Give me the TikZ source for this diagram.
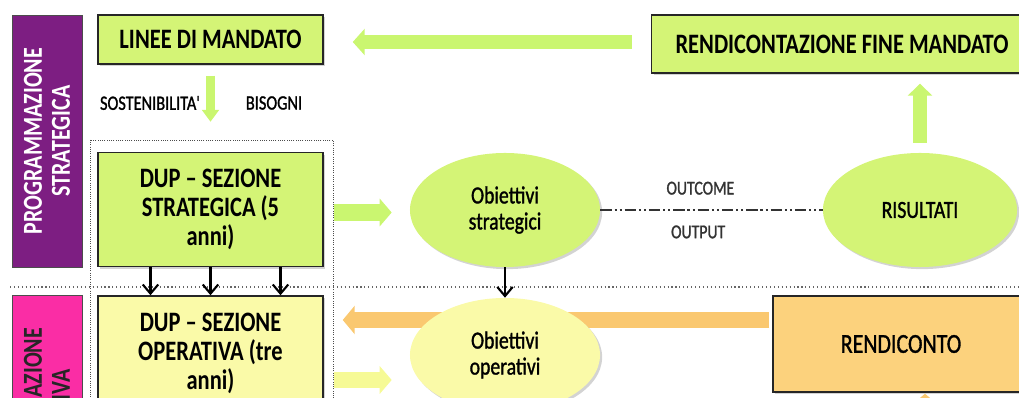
\documentclass[tikz,border=0pt]{standalone}
\usepackage{fontspec}
\setmainfont{Carlito}[FakeStretch=0.8]
\newfontfamily\medio{Carlito}[FakeStretch=0.8, FakeBold=1.2]
\usetikzlibrary{arrows.meta, positioning, shapes.geometric, shadows}
\definecolor{verde}{RGB}{212,244,118}
\definecolor{verdeart}{RGB}{202,246,112}
\definecolor{giallo}{RGB}{250,250,168}
\definecolor{gialloart}{RGB}{246,250,150}
\definecolor{arancio}{RGB}{252,210,125}
\definecolor{arancioart}{RGB}{250,200,112}
\definecolor{viola}{RGB}{125,30,130}
\definecolor{fucsia}{RGB}{250,45,165}
\newcommand\titolo{\fontsize{20}{20.6}\selectfont\bfseries}
\newcommand\barra{\fontsize{19.5}{20}\selectfont\bfseries}

\begin{document}
\begin{tikzpicture}[
  x=0.025cm, y=-0.025cm, every node/.style={align=center},
  ombra/.style={drop shadow={shadow xshift=1.5pt, shadow yshift=-1.5pt, opacity=.35}},
  box/.style={draw=black!85, line width=1pt, inner sep=4pt, ombra},
  ell/.style={ellipse, inner sep=0pt, minimum height=2.85cm, ombra},
  bar/.style={rotate=90, draw=black!70, line width=.6pt, minimum width=6.3cm, minimum height=1.75cm, font=\barra},
  blocco/.style 2 args={line width=#1, -{Triangle[length=0.3cm, width=#2]}},
  nero/.style={line width=1.5pt, -{Straight Barb[length=6.5pt, width=11pt]}}
]
\useasboundingbox (0,0) rectangle (1019,398);
\clip (0,0) rectangle (1019,398);

% barre laterali
\node[bar, fill=viola, text=white] (pstrat) at (47,141) {PROGRAMMAZIONE\\STRATEGICA};
\node[bar, fill=fucsia, text=black!85] (poper) at (47,421) {PROGRAMMAZIONE\\OPERATIVA};

% separatori
\coordinate (sepa) at (10,287);
\coordinate (sepb) at (1019,287);
\draw[dotted, line width=.8pt, black!60] (sepa) -- (sepb);
\draw[densely dotted, line width=.6pt, black!70] (90,140) rectangle (333,430);

% caselle
\node[box, fill=verde, minimum width=5.625cm, minimum height=1.225cm, font=\titolo] (lin) at (210.5,39.5) {LINEE DI MANDATO};
\node[box, fill=verde, minimum width=9.525cm, minimum height=1.45cm, font=\titolo] (rfm) at (842,44) {RENDICONTAZIONE FINE MANDATO};
\node[box, fill=verde, minimum width=5.625cm, minimum height=2.85cm, font=\titolo] (dups) at (210.5,209.5) {DUP – SEZIONE\\STRATEGICA (5\\anni)};
\node[box, fill=giallo, minimum width=5.625cm, minimum height=2.85cm, font=\titolo] (dupo) at (210.5,353) {DUP – SEZIONE\\OPERATIVA (tre\\anni)};
\node[box, fill=arancio, minimum width=6.4cm, minimum height=2.4cm, font=\medio\fontsize{19.5}{21}\selectfont] (rend) at (901,344) {RENDICONTO};

\node[font=\medio\fontsize{14.5}{16}\selectfont] (sost) at (150,103) {SOSTENIBILITA'};
\node[font=\medio\fontsize{14.5}{16}\selectfont] (bis) at (274,103) {BISOGNI};

\node[ell, fill=verde, minimum width=4.75cm, font=\medio\fontsize{17.5}{18.5}\selectfont] (obs) at (505,210) {Obiettivi\\strategici};
\node[ell, fill=verde, minimum width=4.85cm, font=\medio\fontsize{17.5}{19}\selectfont] (ris) at (920,210) {RISULTATI};

% frecce
\draw[blocco={0.35cm}{0.65cm}, verdeart, shorten <=0.475cm, shorten >=0.725cm] ([yshift=0.05cm]rfm.west) -- ([yshift=0.05cm]rfm.west -| lin.east);
\draw[blocco={0.24cm}{0.42cm}, verdeart, shorten <=0.275cm, shorten >=0.75cm] (lin.south) -- (dups.north);
\draw[blocco={0.42cm}{0.68cm}, verdeart, shorten <=0.25cm, shorten >=0.45cm] ([yshift=-0.075cm]dups.east) -- ([yshift=-0.075cm]dups.east -| obs.west);
\draw[blocco={0.37cm}{0.6cm}, verdeart, shorten <=0.25cm, shorten >=0.25cm] (ris.north) -- (ris.north |- rfm.south);
\draw[blocco={0.4cm}{0.7cm}, arancioart, shorten <=0.075cm, shorten >=0.475cm] ([yshift=0.6cm]rend.west) -- ([yshift=0.6cm]rend.west -| dupo.east);
\coordinate (sotto) at (925,445);
\draw[blocco={0.4cm}{0.7cm}, arancioart, shorten >=0.025cm] (sotto) -- (sotto |- rend.south);

\node[ell, fill=giallo, minimum width=4.75cm, font=\medio\fontsize{17.5}{18.5}\selectfont] (obo) at (505,355) {Obiettivi\\operativi};
\draw[blocco={0.4cm}{0.68cm}, gialloart, shorten <=0.25cm, shorten >=0.45cm] ([yshift=-0.675cm]dupo.east) -- ([yshift=-0.675cm]dupo.east -| obo.west);

\foreach \dx in {-1.5,0,1.75}
  \draw[nero] ([xshift=\dx cm]dups.south) -- ([xshift=\dx cm]dupo.north);
\draw[nero] (obs.south) -- (obo.north);

\draw[line width=1.5pt, black!80, dash pattern=on 8pt off 2.1pt on 1.5pt off 2.1pt on 1.5pt off 2.1pt] (obs.east) -- (ris.west)
  node[pos=.45, yshift=15.5pt, font=\medio\fontsize{14}{15}\selectfont] (outc) {OUTCOME}
  node[pos=.44, yshift=-15.6pt, font=\medio\fontsize{14}{15}\selectfont] (outp) {OUTPUT};
\end{tikzpicture}
\end{document}
